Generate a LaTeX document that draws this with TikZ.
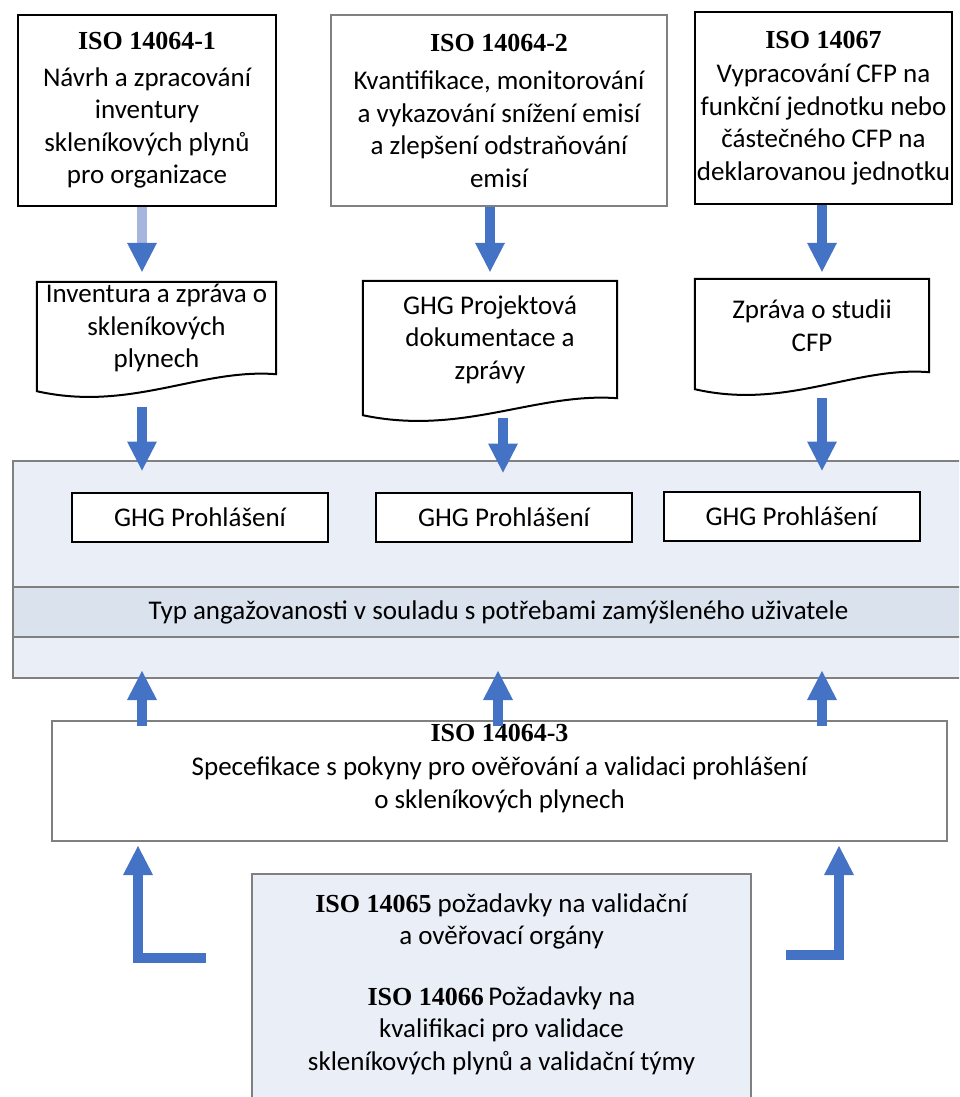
\documentclass[tikz,border=0pt]{standalone}
\usepackage{fontspec}
\setmainfont{Carlito}
\newfontfamily\titleserif{Liberation Serif}
\usetikzlibrary{arrows.meta,calc}
\definecolor{arrowblue}{RGB}{68,114,196}
\definecolor{shaftlight}{RGB}{165,181,221}
\definecolor{panelfill}{RGB}{234,239,247}
\definecolor{bandfill}{RGB}{218,226,238}
\definecolor{framegray}{RGB}{128,128,128}
\tikzset{
  isobox/.style = {draw=black, line width=2pt, fill=white, align=center, inner sep=0pt, font=\bodysize},
  docbox/.style = {align=center, inner sep=0pt, font=\bodysize},
  docline/.style = {draw=black, line width=2pt, line join=miter},
  ghgbox/.style = {draw=black, line width=2pt, fill=white, minimum width=256pt, minimum height=49pt, inner sep=0pt, font=\bodysize},
  panelbox/.style = {draw=framegray, line width=2pt, fill=panelfill, inner sep=0pt},
  bandbox/.style = {panelbox, fill=bandfill, font=\bodysize},
  bigarrow/.style = {line width=10pt, draw=arrowblue, -{Triangle[width=30pt, length=29pt, line width=0pt]}},
  paleshaft/.style = {bigarrow, draw=shaftlight, -{Triangle[width=30pt, length=29pt, line width=0pt, color=arrowblue]}},
}
\newcommand{\bodysize}{\fontsize{27}{32.5}\selectfont}
\newcommand{\isotitle}[1]{{\titleserif\bfseries\fontsize{26}{30}\selectfont #1}}
\newcommand{\docoutline}[1]{%
  \draw[docline] (#1.south east) -- (#1.north east) -- (#1.north west) -- ([yshift=-17pt]#1.south west)
    .. controls ($(#1.south west)!0.39!(#1.south east)+(0pt,-38pt)$) and ($(#1.south west)!0.68!(#1.south east)+(0pt,6pt)$) .. (#1.south east) -- cycle;}

\begin{document}
\begin{tikzpicture}[x=1pt, y=-1pt]
  \useasboundingbox (0,0) rectangle (959,1097);
  \clip (0,0) rectangle (959,1097);

  % standards at the top
  \node [isobox, minimum width=258pt, minimum height=191pt] (iso641) at (147,110.5)
    {\isotitle{ISO 14064-1}\\[4pt] Návrh a zpracování\\ inventury\\ skleníkových plynů\\ pro organizace};
  \node [isobox, draw=framegray, minimum width=336pt, minimum height=191pt] (iso642) at (499,110.5)
    {\isotitle{ISO 14064-2}\\[6pt] Kvantifikace, monitorování\\ a vykazování snížení emisí\\ a zlepšení odstraňování\\ emisí};
  \node [isobox, minimum width=257pt, minimum height=192pt] (iso67) at (823.5,108)
    {\isotitle{ISO 14067}\\[2pt] Vypracování CFP na\\ funkční jednotku nebo\\ částečného CFP na\\ deklarovanou jednotku};

  % documents
  \node [docbox, minimum width=239pt, minimum height=92pt] (doc1) at (156.5,328) {Inventura a zpráva o\\ skleníkových\\ plynech};
  \node [docbox, minimum width=254pt, minimum height=117pt] (doc2) at (490,339.5) {GHG Projektová\\ dokumentace a\\ zprávy};
  \node [docbox, minimum width=234pt, minimum height=93pt] (doc3) at (812,325.5) {Zpráva o studii\\ CFP};
  \foreach \d in {doc1,doc2,doc3} {\docoutline{\d}}

  % declarations panel
  \node [panelbox, minimum width=971pt, minimum height=217pt] (panel) at (498.5,569.5) {};
  \node [bandbox, minimum width=971pt, minimum height=50pt] (band) at (498.5,612)
    {Typ angažovanosti v souladu s potřebami zamýšleného uživatele};
  \node [ghgbox] (ghg1) at (200,517) {GHG Prohlášení};
  \node [ghgbox] (ghg2) at (504,517) {GHG Prohlášení};
  \node [ghgbox] (ghg3) at (791.5,516) {GHG Prohlášení};

  % verification
  \node [isobox, draw=framegray, minimum width=895pt, minimum height=120pt, text depth=30pt] (iso643) at (499.5,781)
    {\isotitle{ISO 14064-3}\\[2pt] Specefikace s pokyny pro ověřování a validaci prohlášení\\ o skleníkových plynech};
  \node [isobox, draw=framegray, fill=panelfill, minimum width=499pt, minimum height=250pt, text depth=34pt] (iso6566) at (501.5,999)
    {\isotitle{ISO 14065}\ požadavky na validační\\ a ověřovací orgány\\[28pt]
     \isotitle{ISO 14066}\,Požadavky na\\ kvalifikaci pro validace\\ skleníkových plynů a validační týmy};

  % arrows
  \draw [paleshaft] ($(iso641.south)+(-5,0)$) -- ($(iso641.south |- doc1.north)+(-5,-10)$);
  \draw [bigarrow] ($(iso642.south)+(-9,0)$) -- ($(iso642.south |- doc2.north)+(-9,-9)$);
  \draw [bigarrow] ($(iso67.south)+(-1.5,0)$) -- ($(iso67.south |- doc3.north)+(-1.5,-7)$);

  \draw [bigarrow] ($(doc1.south)+(-14.5,33)$) -- ($(doc1.south |- ghg1.north)+(-14.5,-21)$);
  \draw [bigarrow] ($(doc2.south)+(13,20)$) -- ($(doc2.south |- ghg2.north)+(13,-19)$);
  \draw [bigarrow] ($(doc3.south)+(10,26)$) -- ($(doc3.south |- ghg3.north)+(10,-20)$);

  \draw [bigarrow] ($(iso643.north)+(-357.5,6)$) -- ($(iso643.north |- panel.south)+(-357.5,-8)$);
  \draw [bigarrow] ($(iso643.north)+(-1.5,6)$) -- ($(iso643.north |- panel.south)+(-1.5,-8)$);
  \draw [bigarrow] ($(iso643.north)+(322.5,6)$) -- ($(iso643.north |- panel.south)+(322.5,-8)$);

  \draw [bigarrow, line join=miter] ($(iso6566.west)+(-45,-41)$) -| ($(iso643.south)+(-361.5,4)$);
  \draw [bigarrow, line join=miter] ($(iso6566.east)+(34,-44)$) -| ($(iso643.south)+(339.5,4)$);
\end{tikzpicture}
\end{document}
